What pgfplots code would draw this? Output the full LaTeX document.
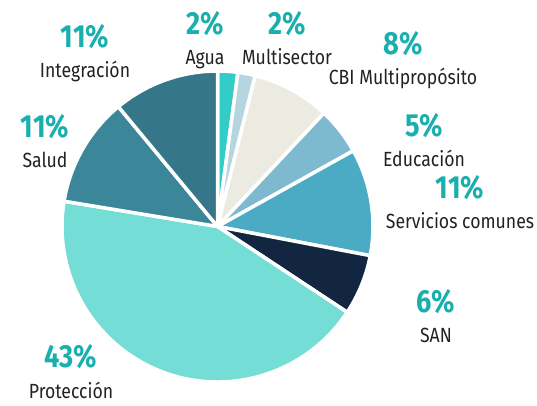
\documentclass[border=0pt]{standalone}
\usepackage{pgfplots}
\pgfplotsset{compat=1.18}
\usepackage{pgfplotstable}
\usepackage{fontspec}
\setmainfont{Fira Sans}
\newfontfamily\pctfam{Fira Sans}[FakeStretch=0.85]
\newfontfamily\lblfam{Fira Sans}[FakeStretch=0.86]
\newcommand\pctfont{\pctfam\bfseries\fontsize{32bp}{32bp}\selectfont}
\newcommand\lblfont{\lblfam\fontsize{20.5bp}{20.5bp}\selectfont}

\definecolor{cAgua}{HTML}{34CCC8}
\definecolor{cMulti}{HTML}{B5D5E0}
\definecolor{cCBI}{HTML}{ECEBE2}
\definecolor{cEdu}{HTML}{7DB9CF}
\definecolor{cServ}{HTML}{4BABC5}
\definecolor{cSAN}{HTML}{122641}
\definecolor{cProt}{HTML}{74DDD5}
\definecolor{cSalud}{HTML}{3B8799}
\definecolor{cInteg}{HTML}{357789}
\definecolor{pct}{HTML}{1AAFAF}
\definecolor{txt}{HTML}{222222}

% share (%), slice colour, label x and baseline of the percentage (pixels from top)
\pgfplotstableread[col sep=comma]{
name,value,color,lx,ly
Agua,2.1,cAgua,205,35
Multisector,1.8,cMulti,287,35
CBI Multipropósito,8.1,cCBI,403,55
Educación,4.9,cEdu,424,137
Servicios comunes,11.1,cServ,460,199
SAN,6.3,cSAN,436,313
Protección,43.3,cProt,71,368
Salud,11.4,cSalud,45,138
Integración,11.0,cInteg,85,48
}\piedata

\begin{document}
\begin{tikzpicture}
\begin{axis}[x=1bp,y=1bp,xmin=0,xmax=537,ymin=0,ymax=403,
  hide axis,clip=false,scale only axis]
\path (axis cs:0,0) rectangle (axis cs:537,403);
\def\cum{0}
\pgfplotsforeachungrouped \i in {0,...,8}{%
  \pgfplotstablegetelem{\i}{value}\of\piedata \let\v\pgfplotsretval
  \pgfplotstablegetelem{\i}{color}\of\piedata \let\c\pgfplotsretval
  \pgfplotstablegetelem{\i}{name}\of\piedata \let\n\pgfplotsretval
  \pgfplotstablegetelem{\i}{lx}\of\piedata \let\lx\pgfplotsretval
  \pgfplotstablegetelem{\i}{ly}\of\piedata \let\ly\pgfplotsretval
  \pgfmathsetmacro\sa{90-3.6*\cum}
  \pgfmathsetmacro\ea{90-3.6*(\cum+\v)}
  \pgfmathsetmacro\cum{\cum+\v}
  \pgfmathtruncatemacro\p{round(\v)}
  \pgfmathsetmacro\pya{403-\ly}
  \pgfmathsetmacro\pyb{373-\ly}
  \edef\temp{%
    \noexpand\fill[\c,draw=white,line width=3.5bp,line join=round]
      (axis cs:217.5,176.5) -- ++(\sa:155.5bp)
      arc[start angle=\sa,end angle=\ea,radius=155.5bp] -- cycle;
    \noexpand\node[anchor=base,text=pct,font=\noexpand\pctfont,inner sep=0pt]
      at (axis cs:\lx,\pya) {\p\noexpand\%};
    \noexpand\node[anchor=base,text=txt,font=\noexpand\lblfont,inner sep=0pt]
      at (axis cs:\lx,\pyb) {\n};
  }\temp
}
\end{axis}
\end{tikzpicture}
\end{document}
